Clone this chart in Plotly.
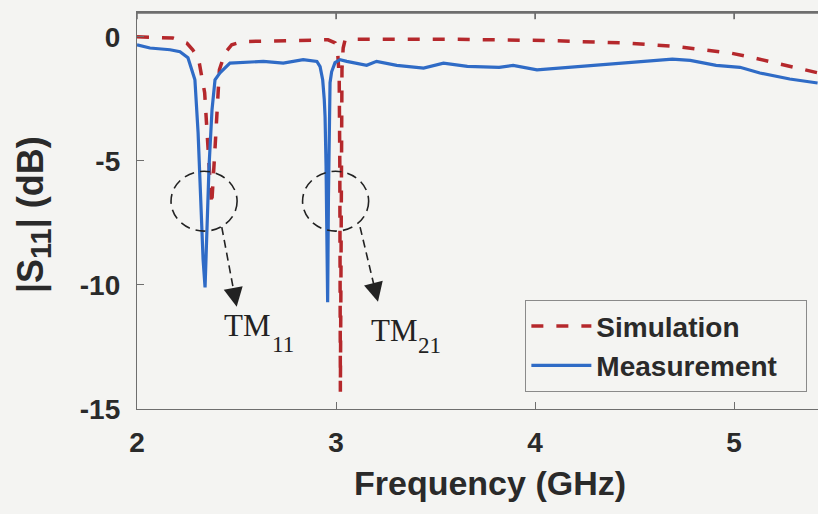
import plotly.graph_objects as go

# ---------------- data ----------------
sim_freq = [2.00, 2.10, 2.18, 2.25, 2.28, 2.31, 2.34, 2.357, 2.375, 2.392, 2.404, 2.414,
            2.442, 2.476, 2.533, 2.70, 2.90, 2.96, 2.995, 3.008, 3.016, 3.019, 3.022,
            3.026, 3.030, 3.036, 3.045, 3.10, 3.37, 3.60, 4.06, 4.46, 4.71, 4.85, 4.98,
            5.10, 5.22, 5.36, 5.42]
sim_s11 = [0.0, -0.02, -0.05, -0.25, -0.52, -0.92, -2.25, -4.5, -6.8, -4.5, -2.5, -1.33,
           -0.65, -0.32, -0.19, -0.15, -0.12, -0.12, -0.24, -0.6, -1.6, -5.0, -14.3,
           -5.0, -1.3, -0.45, -0.15, -0.1, -0.09, -0.1, -0.15, -0.25, -0.39, -0.52, -0.65,
           -0.85, -1.08, -1.33, -1.45]

meas_freq = [2.00, 2.065, 2.166, 2.216, 2.256, 2.291, 2.307, 2.317, 2.332, 2.342, 2.352,
             2.362, 2.377, 2.392, 2.417, 2.467, 2.635, 2.735, 2.835, 2.904, 2.920, 2.933,
             2.941, 2.945, 2.950, 2.953, 2.958, 2.962, 2.966, 2.970, 2.978, 2.995, 3.020,
             3.054, 3.154, 3.204, 3.305, 3.44, 3.54, 3.66, 3.82, 3.89, 4.01, 4.33, 4.69,
             4.78, 4.91, 5.03, 5.13, 5.28, 5.42]
meas_s11 = [-0.32, -0.45, -0.52, -0.60, -0.84, -1.73, -3.86, -5.86, -8.96, -10.1, -7.87,
            -5.22, -2.93, -1.73, -1.45, -1.06, -0.99, -1.06, -0.92, -0.99, -1.20, -1.73,
            -2.53, -3.21, -5.22, -7.87, -10.7, -6.5, -3.21, -1.85, -1.41, -1.04, -0.92,
            -0.99, -1.15, -0.99, -1.15, -1.26, -1.06, -1.19, -1.23, -1.15, -1.33, -1.12, -0.9,
            -0.95, -1.15, -1.23, -1.46, -1.70, -1.86]

x_ticks = [2, 3, 4, 5]
y_ticks = [0, -5, -10, -15]
mode_main = ["TM", "TM"]
mode_sub = ["11", "21"]
main_pos = [(2.553, -11.63), (3.294, -11.83)]
sub_pos = [(2.734, -12.39), (3.470, -12.45)]
circle_boxes = [(2.171, -5.42, 2.503, -7.83), (2.832, -5.42, 3.164, -7.83)]
arrow_start = [(2.426, -7.67), (3.121, -7.67)]
arrow_back = [(2.492, -10.49), (3.199, -10.29)]
arrow_tip = [(2.501, -10.88), (3.211, -10.68)]

RED = "#B5282C"
BLUE = "#2F6BC6"
TXT = "#2a2a2a"
BG = "#f4f4f2"
AX = "#6e6e6e"
SERIF = "Liberation Serif, Times New Roman, serif"
PAD = "\u00a0\u00a0\u00a0"

fig = go.Figure()
fig.add_trace(go.Scatter(x=sim_freq, y=sim_s11, mode="lines", name="Simulation" + PAD,
                         line=dict(color=RED, width=3.5, dash="12px,13px")))
fig.add_trace(go.Scatter(x=meas_freq, y=meas_s11, mode="lines", name="Measurement" + PAD,
                         line=dict(color=BLUE, width=3.2)))

shapes = [dict(type="line", xref="paper", yref="paper", x0=0, x1=1, y0=0.998, y1=0.998,
               line=dict(color=AX, width=1.8))]
for xv in x_ticks:
    shapes.append(dict(type="line", xref="x", yref="paper", x0=xv, x1=xv, y0=1, y1=0.982,
                       line=dict(color=AX, width=1.5)))
for (x0, y0, x1, y1) in circle_boxes:
    shapes.append(dict(type="circle", xref="x", yref="y", x0=x0, y0=y0, x1=x1, y1=y1,
                       line=dict(color="#222", width=1.6, dash="10px,6px")))
for (sx, sy), (bx, by) in zip(arrow_start, arrow_back):
    shapes.append(dict(type="line", xref="x", yref="y", x0=sx, y0=sy, x1=bx, y1=by,
                       line=dict(color="#222", width=1.6, dash="8px,5px")))

annotations = []
for (bx, by), (tx, ty) in zip(arrow_back, arrow_tip):
    annotations.append(dict(x=tx, y=ty, ax=bx, ay=by, xref="x", yref="y", axref="x", ayref="y",
                            text="", showarrow=True, arrowhead=2, arrowsize=2.4,
                            arrowwidth=1.6, arrowcolor="#222"))
for lab, (lx, ly) in zip(mode_main, main_pos):
    annotations.append(dict(x=lx, y=ly, xref="x", yref="y", text=lab, showarrow=False,
                            font=dict(family=SERIF, size=31, color="#222", weight="normal")))
for lab, (lx, ly) in zip(mode_sub, sub_pos):
    annotations.append(dict(x=lx, y=ly, xref="x", yref="y", text=lab, showarrow=False,
                            font=dict(family=SERIF, size=23, color="#222", weight="normal")))
# axis titles placed as annotations
annotations.append(dict(x=0.518, y=-0.186, xref="paper", yref="paper", text="Frequency (GHz)",
                        showarrow=False, xanchor="center", yanchor="middle",
                        font=dict(size=34, weight="bold", color=TXT)))
annotations.append(dict(x=-0.151, y=0.489, xref="paper", yref="paper",
                        text="|S<sub><span style='font-size:29px'>11</span></sub>| (dB)",
                        textangle=-90, showarrow=False, xanchor="center", yanchor="middle",
                        font=dict(size=36, weight="bold", color=TXT)))

fig.update_layout(
    width=818, height=514,
    margin=dict(l=137, r=0, t=12, b=105),
    paper_bgcolor=BG, plot_bgcolor=BG,
    font=dict(family="Liberation Sans, Arial, sans-serif", color=TXT, size=28, weight="bold"),
    shapes=shapes, annotations=annotations,
    showlegend=True,
    legend=dict(x=0.570, y=0.2746, xanchor="left", yanchor="top",
                bgcolor=BG, bordercolor="#8a8a8a", borderwidth=1.2,
                font=dict(size=28, color=TXT, weight="bold"),
                itemwidth=60, tracegroupgap=0),
)
fig.update_xaxes(range=[2, 5.422], tickvals=x_ticks, ticktext=[str(v) for v in x_ticks],
                 ticks="inside", ticklen=7, tickcolor=AX, showline=True,
                 linecolor=AX, linewidth=1.3, mirror="ticks", showgrid=False,
                 zeroline=False, ticklabelstandoff=8,
                 tickfont=dict(size=28, weight="bold", color=TXT))
fig.update_yaxes(range=[-15, 1.0], tickvals=y_ticks, ticktext=[str(v) for v in y_ticks],
                 ticks="inside", ticklen=7, tickcolor=AX, showline=True,
                 linecolor=AX, linewidth=1.3, mirror=False, showgrid=False,
                 zeroline=False, ticklabelstandoff=10,
                 tickfont=dict(size=28, weight="bold", color=TXT))

fig.write_html("out.html", config={"displayModeBar": False},
               post_script="document.body.style.margin='0';document.body.style.background='#f4f4f2';")
